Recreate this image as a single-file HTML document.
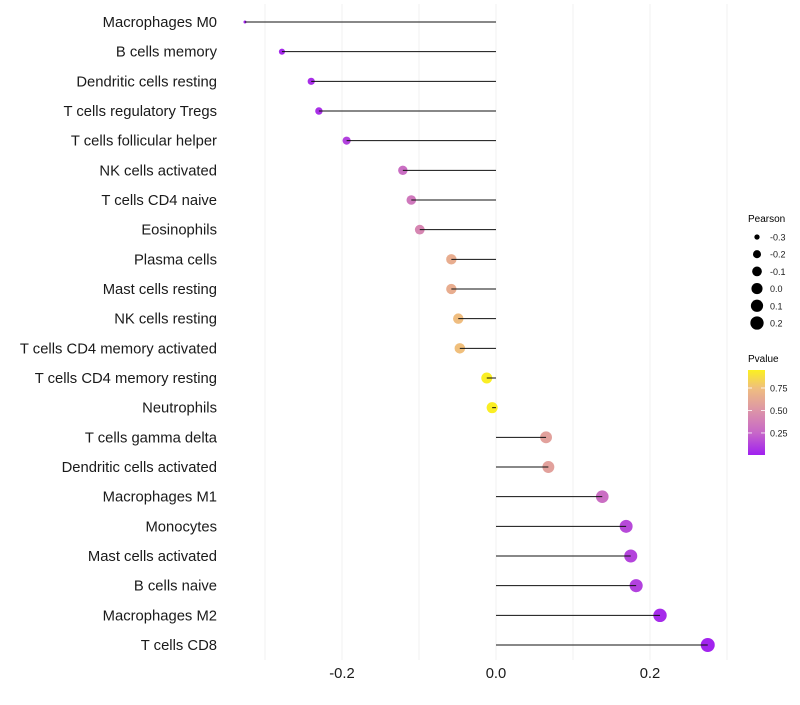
<!DOCTYPE html>
<html><head><meta charset="utf-8"><style>
body{margin:0;background:#fff;}
svg{font-family:"Liberation Sans",sans-serif;}
</style></head><body>
<svg id="chart" width="800" height="700">
<defs>
<linearGradient id="pg" x1="0" y1="1" x2="0" y2="0">
<stop offset="0" stop-color="#a020f0"/><stop offset="0.26" stop-color="#c767c8"/>
<stop offset="0.52" stop-color="#dc94a8"/><stop offset="0.78" stop-color="#efbd80"/>
<stop offset="1" stop-color="#fbf020"/>
</linearGradient>
</defs>
<g id="grid"></g>
<g id="pts"></g>
<g id="marks"></g>
<g id="labels"></g>
<g id="xt"></g>
<g>
<text x="748" y="222" font-size="10">Pearson</text>
<g id="sizeLeg"></g>
</g>
<g>
<text x="748" y="362" font-size="10">Pvalue</text>
<rect x="748" y="370" width="17" height="85" fill="url(#pg)"/>
<g id="colLeg"></g>
</g>
</svg>
<script>
const categories=["Macrophages M0","B cells memory","Dendritic cells resting","T cells regulatory  Tregs ","T cells follicular helper","NK cells activated","T cells CD4 naive","Eosinophils","Plasma cells","Mast cells resting","NK cells resting","T cells CD4 memory activated","T cells CD4 memory resting","Neutrophils","T cells gamma delta","Dendritic cells activated","Macrophages M1","Monocytes","Mast cells activated","B cells naive","Macrophages M2","T cells CD8"];
const pearson=[-0.326,-0.278,-0.240,-0.230,-0.194,-0.121,-0.110,-0.099,-0.058,-0.058,-0.049,-0.047,-0.012,-0.005,0.065,0.068,0.138,0.169,0.175,0.182,0.213,0.275];
const pvalue=[0.01,0.03,0.05,0.06,0.12,0.30,0.36,0.44,0.68,0.68,0.78,0.79,0.99,0.99,0.60,0.60,0.30,0.15,0.13,0.12,0.04,0.01];
const xTicks=[-0.2,0,0.2];
const xTickLabels=["-0.2","0.0","0.2"];
const gridVals=[-0.3,-0.2,-0.1,0,0.1,0.2,0.3];
const sizeLegVals=[-0.3,-0.2,-0.1,0.0,0.1,0.2];
const sizeLegLabels=["-0.3","-0.2","-0.1","0.0","0.1","0.2"];
const colLegVals=[0.75,0.5,0.25];
const colLegLabels=["0.75","0.50","0.25"];

const NS="http://www.w3.org/2000/svg";
const x=v=>496+v*770;
const y=i=>22+i*(623/(categories.length-1));
const pmin=Math.min(...pearson),pmax=Math.max(...pearson);
const rad=v=>1.5+5.5*Math.sqrt(Math.max(0,(v-pmin)/(pmax-pmin)));
const stops=[[0,[160,32,240]],[0.26,[199,103,200]],[0.52,[220,148,168]],[0.78,[239,189,128]],[1,[251,240,32]]];
function col(p){for(let k=1;k<stops.length;k++){if(p<=stops[k][0]){const a=stops[k-1],b=stops[k],t=(p-a[0])/(b[0]-a[0]);return "rgb("+a[1].map((c,j)=>Math.round(c+(b[1][j]-c)*t)).join(",")+")";}}return "rgb(251,240,32)";}
function mk(t,at,parent){const e=document.createElementNS(NS,t);for(const k in at)e.setAttribute(k,at[k]);parent.appendChild(e);return e;}
const grid=document.getElementById('grid'),marks=document.getElementById('marks'),pts=document.getElementById('pts'),labels=document.getElementById('labels'),xt=document.getElementById('xt');
gridVals.forEach(v=>{const l=mk('line',{x1:x(v),x2:x(v),y1:4,y2:660,stroke:'#f2f2f2','stroke-width':1},grid);

});
categories.forEach((c,i)=>{
const p=mk('circle',{cx:x(pearson[i]),cy:y(i),r:rad(pearson[i]),fill:col(pvalue[i])},pts);


const l=mk('line',{x1:x(0),x2:x(pearson[i]),y1:y(i),y2:y(i),stroke:'#111','stroke-width':1},marks);


const t=mk('text',{x:217,y:y(i)+5,'font-size':14.8,'text-anchor':'end',fill:'#1a1a1a'},labels);t.textContent=c;


});
xTicks.forEach((v,i)=>{const t=mk('text',{x:x(v),y:678,'font-size':14.8,'text-anchor':'middle',fill:'#1a1a1a'},xt);t.textContent=xTickLabels[i];

});
const sl=document.getElementById('sizeLeg');
sizeLegVals.forEach((v,i)=>{const yy=237+i*17.2;
const c=mk('circle',{cx:757,cy:yy,r:rad(v),fill:'#000'},sl);


const t=mk('text',{x:770,y:yy+3.5,'font-size':9,fill:'#1a1a1a'},sl);t.textContent=sizeLegLabels[i];

});
const cl=document.getElementById('colLeg');
colLegVals.forEach((v,i)=>{const yy=455-(v-0.005)/(0.95-0.005)*85;
const l=mk('line',{x1:748,x2:752,y1:yy,y2:yy,stroke:'#fff','stroke-width':0.8},cl);


const l2=mk('line',{x1:761,x2:765,y1:yy,y2:yy,stroke:'#fff','stroke-width':0.8},cl);


const t=mk('text',{x:770,y:yy+3.5,'font-size':9,fill:'#1a1a1a'},cl);t.textContent=colLegLabels[i];

});
</script>
</body></html>
